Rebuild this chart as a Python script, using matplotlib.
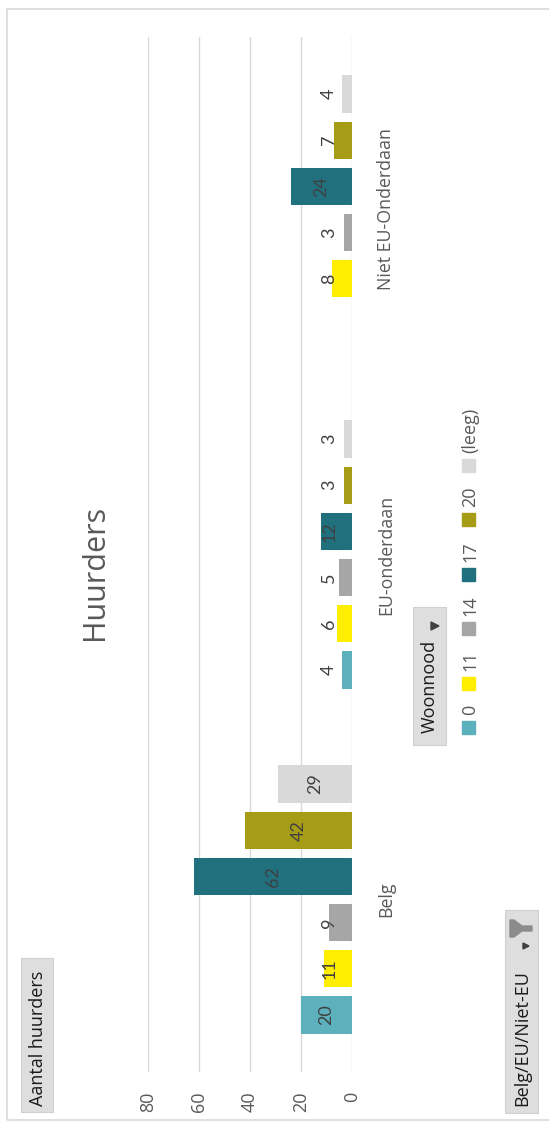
import numpy as np
import matplotlib.pyplot as plt
from matplotlib.patches import Rectangle, Polygon

# data
categories = ['Belg', 'EU-onderdaan', 'Niet EU-Onderdaan']
series = ['0', '11', '14', '17', '20', '(leeg)']
woonnood_0 = [20, 4, np.nan]
woonnood_11 = [11, 6, 8]
woonnood_14 = [9, 5, 3]
woonnood_17 = [62, 12, 24]
woonnood_20 = [42, 3, 7]
woonnood_leeg = [29, 3, 4]
all_values = [woonnood_0, woonnood_11, woonnood_14, woonnood_17, woonnood_20, woonnood_leeg]
colors = ['#5DB1BC', '#FFEE00', '#A6A6A6', '#20707E', '#A69C16', '#D9D9D9']
xticks = [0, 20, 40, 60, 80]

W, H = 549, 1128
fig = plt.figure(figsize=(W / 100, H / 100), dpi=100)
fig.patch.set_facecolor('white')

def fx(px):
    return px / W

def fy(py):
    return 1 - py / H

# outer chart border
fig.patches.append(Rectangle((fx(7), fy(1120)), fx(600), fy(9) - fy(1120),
                             transform=fig.transFigure, fill=False,
                             edgecolor='#D9D9D9', lw=1.2))

ax = fig.add_axes([fx(148), fy(1072), fx(352) - fx(148), fy(37) - fy(1072)])
pos = np.arange(len(categories))
slot = 0.134
bh = 0.108
for i, (vals, c) in enumerate(zip(all_values, colors)):
    y = pos + (i - 2.5) * slot
    ax.barh(y, vals, height=bh, color=c, zorder=3)
    for yy, v in zip(y, vals):
        if np.isnan(v):
            continue
        ax.text(max(v / 2, 9), yy, str(v), rotation=90, ha='center', va='center',
                fontsize=13, color='#404040', family='Lato', zorder=4)

ax.set_xlim(80, 0)
ax.set_ylim(-0.5, 2.5)
ax.set_xticks(xticks)
ax.set_xticklabels([str(t) for t in xticks], rotation=90, fontsize=13,
                   color='#595959', family='Open Sans')
ax.tick_params(axis='x', length=0, pad=14)
ax.yaxis.tick_right()
ax.set_yticks(pos)
ax.set_yticklabels(categories, rotation=90, va='center', fontsize=12.8,
                   color='#595959', family='Open Sans')
ax.tick_params(axis='y', length=0, pad=18)
ax.grid(axis='x', color='#D9D9D9', lw=1, zorder=0)
for s in ax.spines.values():
    s.set_visible(False)

# title
fig.text(fx(95), fy(640), 'Huurders', rotation=90, ha='center', va='bottom',
         fontsize=22, color='#595959', family='Open Sans')

# field buttons
def button(x0, x1, y0, y1, label, ty, tx):
    fig.patches.append(Rectangle((fx(x0), fy(y1)), fx(x1) - fx(x0), fy(y0) - fy(y1),
                                 transform=fig.transFigure, facecolor='#DEDEDE',
                                 edgecolor='#D0D0D0', lw=0.8))
    fig.text(fx(tx), fy(ty), label, rotation=90, ha='center', va='bottom',
             fontsize=13, color='#1A1A1A', family='Open Sans')

button(21, 53, 958, 1112, 'Aantal huurders', 1106, 38)
button(505, 538, 910, 1113, 'Belg/EU/Niet-EU', 1106, 522)
button(413, 446, 607, 745, 'Woonnood', 733, 430)

# dropdown arrows
def arrow(cx, cy, s=4):
    fig.patches.append(Polygon([(fx(cx - s), fy(cy - s)), (fx(cx - s), fy(cy + s)),
                                (fx(cx + s), fy(cy))], closed=True,
                               transform=fig.transFigure, color='#404040'))

arrow(435, 626)
arrow(526, 946, 3)
# filter funnel icon
funnel = [(510, 920), (510, 937), (514, 937), (522, 931), (532, 931),
          (532, 926), (522, 926), (514, 920)]
fig.patches.append(Polygon([(fx(a), fy(b)) for a, b in funnel], closed=True,
                           transform=fig.transFigure, color='#8C8C8C'))

# legend
renderer = fig.canvas.get_renderer()
ly = 734
for name, c in zip(series, colors):
    fig.patches.append(Rectangle((fx(462), fy(ly)), fx(13), fy(ly - 13) - fy(ly),
                                 transform=fig.transFigure, color=c))
    t = fig.text(fx(470), fy(ly - 19), name, rotation=90, ha='center', va='bottom',
                 fontsize=13, color='#595959', family='Open Sans')
    bb = t.get_window_extent(renderer)
    ly = ly - 19 - bb.height - 15

fig.savefig('out.png', dpi=100)
